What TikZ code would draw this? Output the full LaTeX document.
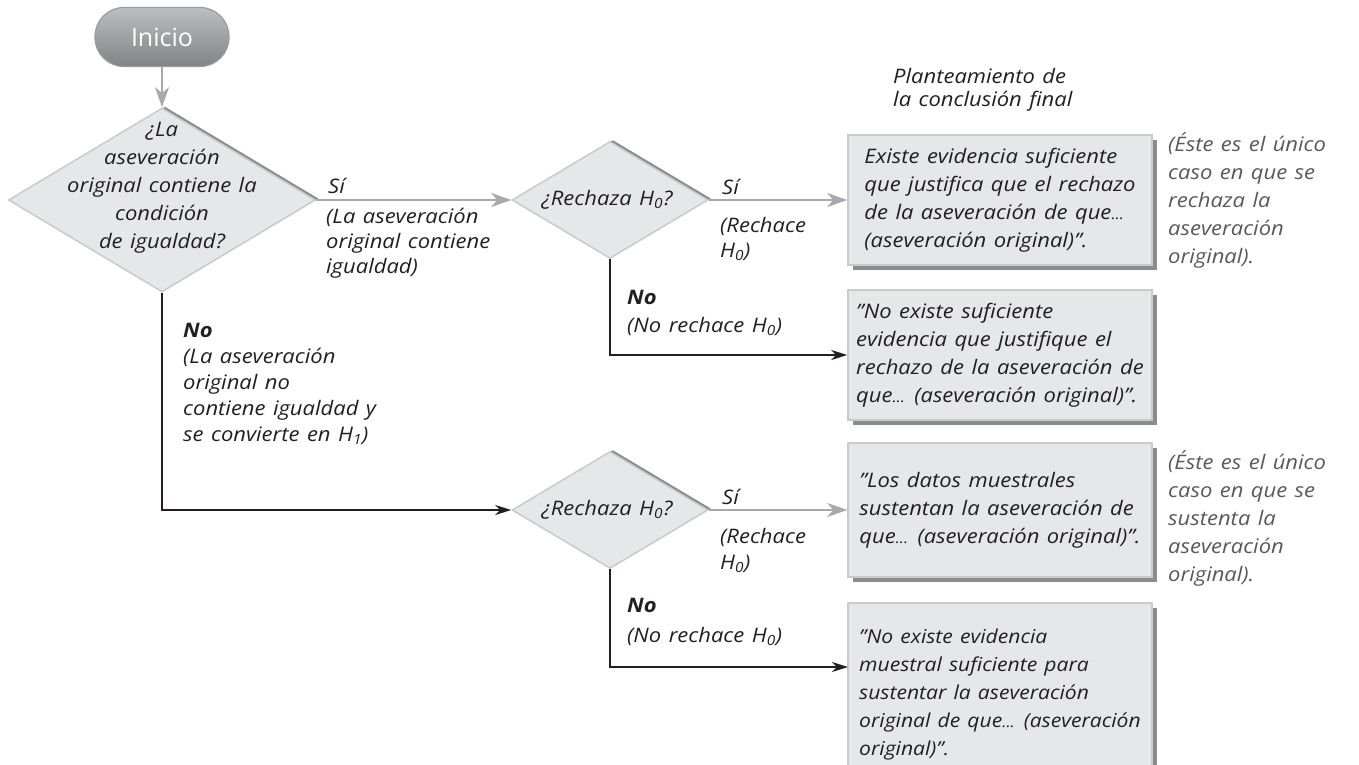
\documentclass[tikz,border=0pt]{standalone}
\usepackage{fontspec}
\setmainfont{Open Sans}[FakeStretch=1.1, WordSpace=1.3]
\newfontfamily\pillfont{Open Sans}
\newcommand\elip{{\fontsize{15}{15}\selectfont...}}
\usetikzlibrary{arrows.meta,shapes.geometric,shadows,calc}
\definecolor{arrgray}{HTML}{A7A9AC}
\definecolor{ink}{HTML}{231F20}
\definecolor{boxfill}{HTML}{E6E7E8}
\definecolor{boxshadow}{HTML}{8A8C8E}
\definecolor{notegray}{HTML}{58595B}
\definecolor{edgegray}{HTML}{C8CACC}
\definecolor{pilltop}{HTML}{BCBEC0}
\definecolor{pillmid}{HTML}{A2A4A7}
\definecolor{pillbot}{HTML}{808285}
\begin{document}
\begin{tikzpicture}[x=1pt,y=-1pt,
  txt/.style={font=\fontsize{20}{28}\selectfont\itshape, text=ink, inner sep=0pt},
  lbl/.style={txt, align=left},
  note/.style={txt, text=notegray, align=left, anchor=north west},
  dia/.style={diamond, draw=edgegray, line width=1.5pt, fill=boxfill, inner sep=0pt,
    drop shadow={shadow xshift=3pt, shadow yshift=1.5pt, fill=boxshadow, opacity=1}},
  concl/.style={rectangle, draw=edgegray, line width=1.5pt, fill=boxfill,
    minimum width=304pt, inner sep=0pt, align=left,
    font=\fontsize{20}{28}\selectfont\itshape, text=ink,
    drop shadow={shadow xshift=5pt, shadow yshift=-5pt, fill=boxshadow, opacity=1}},
  pill/.style={rectangle, rounded corners=29pt, minimum width=134pt, minimum height=59pt,
    top color=pilltop, middle color=pillmid, bottom color=pillbot, draw=pillbot!80, line width=1.2pt,
    text=white, font=\pillfont\fontsize{25}{30}\selectfont},
  grayarr/.style={draw=arrgray, line width=2.4pt, -{Stealth[length=20pt,width=14pt,inset=6pt]}},
  blackarr/.style={draw=ink, line width=1.7pt, -{Stealth[length=16pt,width=10pt,inset=5pt]}}
]
\useasboundingbox (0,0) rectangle (1359,765);

% start
\node[pill] (start) at (162,37) {Inicio};

% decisions
\node[dia, minimum width=307pt, minimum height=184pt] (d1) at (162,200) {};
\node[txt, align=center] (d1t) at (162,188) {¿La\\aseveración\\original contiene la\\condición\\de igualdad?};

\node[dia, minimum width=196pt, minimum height=117pt] (d2) at (610,200) {};
\node[txt] (d2t) at (607,200) {¿Rechaza H\textsubscript{0}?};

\node[dia, minimum width=196pt, minimum height=117pt] (d3) at (610,510) {};
\node[txt] (d3t) at (607,510) {¿Rechaza H\textsubscript{0}?};

% conclusion boxes
\node[concl, minimum height=130pt] (b1) at (1000,200)
  {Existe evidencia suficiente\\que justifica que el rechazo\\de la aseveración de que\elip\\(aseveración original)".};
\node[concl, minimum height=130pt] (b2) at (1000,355)
  {"No existe suficiente\\evidencia que justifique el\\rechazo de la aseveración de\\que\elip{} (aseveración original)".};
\node[concl, minimum height=134pt] (b3) at (1000,510)
  {"Los datos muestrales\\sustentan la aseveración de\\que\elip{} (aseveración original)".};
\node[concl, minimum height=164pt] (b4) at (1000,685) {};
\node[txt, align=left, anchor=north west, font=\fontsize{19.2}{28}\selectfont\itshape] (b4t) at (859,629)
  {"No existe evidencia\\muestral suficiente para\\sustentar la aseveración\\original de que\elip{} (aseveración\\original)".};
\coordinate (b4in) at (848,667);

% connectors
\draw[grayarr] (start.south) -- (d1.north);
\draw[grayarr] (d1.east) -- (d2.west);
\draw[grayarr] (d2.east) -- (b1.west);
\draw[grayarr] (d3.east) -- (b3.west);
\draw[blackarr] (d2.south) |- (b2.west);
\draw[blackarr] (d1.south) |- (d3.west);
\draw[blackarr] (d3.south) |- (b4in);

% labels
\node[lbl, anchor=west] (si1) at (328,186) {Sí};
\node[lbl, anchor=north west, font=\fontsize{20}{25}\selectfont\itshape] (si1b) at (326,208)
  {(La aseveración\\original contiene\\igualdad)};
\node[lbl, anchor=north west, font=\fontsize{20}{26}\selectfont\itshape] (no1) at (183,323)
  {\textbf{No}\\(La aseveración\\original no\\contiene igualdad y\\se convierte en H\textsubscript{1})};

\node[lbl, anchor=west] (si2) at (722,187) {Sí};
\node[lbl, anchor=north west, font=\fontsize{20}{25}\selectfont\itshape] (re2) at (720,217)
  {(Rechace\\H\textsubscript{0})};
\node[lbl, anchor=north west] (no2) at (627,290) {\textbf{No}\\(No rechace H\textsubscript{0})};

\node[lbl, anchor=west] (si3) at (722,497) {Sí};
\node[lbl, anchor=north west, font=\fontsize{20}{26}\selectfont\itshape] (re3) at (720,528)
  {(Rechace\\H\textsubscript{0})};
\node[lbl, anchor=north west, font=\fontsize{20}{30}\selectfont\itshape] (no3) at (627,598) {\textbf{No}\\(No rechace H\textsubscript{0})};

% headings and notes
\node[lbl, anchor=north west, font=\fontsize{20}{23}\selectfont\itshape] (plan) at (893,68)
  {Planteamiento de\\la conclusión final};
\node[note] (n1) at (1168,132) {(Éste es el único\\caso en que se\\rechaza la\\aseveración\\original).};
\node[note] (n2) at (1168,450) {(Éste es el único\\caso en que se\\sustenta la\\aseveración\\original).};
\end{tikzpicture}
\end{document}
